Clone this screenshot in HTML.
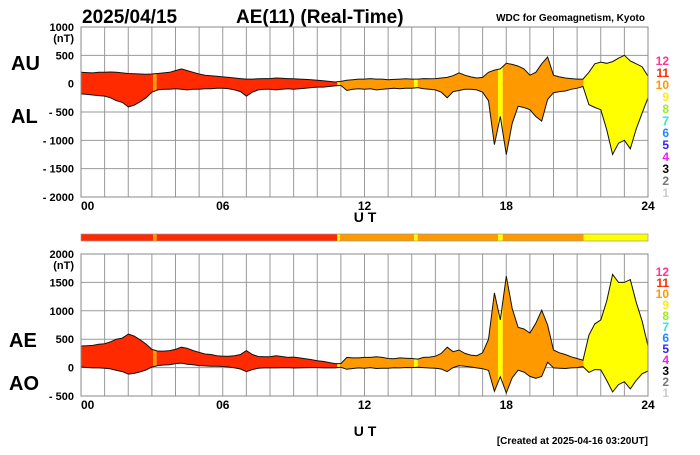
<!DOCTYPE html>
<html><head><meta charset="utf-8"><style>
body{margin:0;background:#fff;}
svg text{font-family:"Liberation Sans",sans-serif;font-weight:bold;}
</style></head><body>
<svg id="c" width="700" height="450" xmlns="http://www.w3.org/2000/svg">
<text x="82" y="23" font-size="19">2025/04/15</text>
<text x="236" y="23" font-size="19">AE(11) (Real-Time)</text>
<text x="645" y="21" font-size="10" text-anchor="end">WDC for Geomagnetism, Kyoto</text>
<text x="11" y="70" font-size="20">AU</text>
<text x="11" y="123" font-size="20">AL</text>
<text x="9" y="347" font-size="20">AE</text>
<text x="9" y="390" font-size="20">AO</text>
<text x="648" y="444" font-size="10" text-anchor="end">[Created at 2025-04-16 03:20UT]</text>
<g id="top"></g>
<g id="bar"></g>
<g id="bot"></g>
</svg>
<script>
const AU=[200,195,190,200,200,205,200,190,180,175,170,165,170,180,190,200,230,260,230,200,170,150,140,130,120,110,100,90,80,80,85,90,90,100,95,90,85,80,75,70,60,50,40,30,40,60,70,80,80,90,80,80,70,75,80,85,80,80,90,85,90,100,110,140,190,150,120,100,110,200,240,260,360,340,310,260,150,200,350,470,150,120,100,90,80,80,200,350,380,360,390,450,500,400,350,300,130];
const AL=[-180,-190,-200,-210,-220,-250,-300,-330,-410,-380,-320,-250,-150,-110,-100,-100,-90,-100,-110,-100,-100,-90,-90,-80,-80,-90,-110,-140,-220,-150,-110,-100,-100,-110,-100,-90,-100,-90,-80,-70,-60,-60,-50,-40,-30,-120,-100,-90,-100,-90,-110,-100,-90,-80,-90,-80,-80,-70,-90,-100,-110,-150,-250,-140,-120,-100,-100,-110,-150,-300,-1075,-580,-1250,-700,-400,-420,-460,-580,-660,-280,-160,-140,-130,-100,-80,-50,-370,-420,-460,-810,-1250,-1050,-1000,-1150,-800,-520,-250];
const segStart=[0,3.05,3.2,10.85,10.95,14.1,14.25,17.65,17.85,21.27];
const segEnd=[3.05,3.2,10.85,10.95,14.1,14.25,17.65,17.85,21.27,24];
const segCount=[11,10,11,9,10,9,10,9,10,9];
const legendNums=[12,11,10,9,8,7,6,5,4,3,2,1];
const legendCols=['#ff3399','#ff2a00','#ff9900','#ffee00','#99ee22','#22eecc','#2288ff','#3322ff','#ee22ee','#000000','#777777','#cccccc'];
const topTicks=['1000','500','0','- 500','- 1000','- 1500','- 2000'];
const topTickVals=[1000,500,0,-500,-1000,-1500,-2000];
const botTicks=['2000','1500','1000','500','0','- 500'];
const botTickVals=[2000,1500,1000,500,0,-500];
const xTicks=['00','06','12','18','24'];
const xTickVals=[0,6,12,18,24];
const countColor={11:'#ff2a00',10:'#ff9900',9:'#ffff00'};
const NS='http://www.w3.org/2000/svg';
const X0=81,X1=648;
const xs=h=>X0+(X1-X0)*h/24;
function mk(p,t,a){const e=document.createElementNS(NS,t);for(const k in a)e.setAttribute(k,a[k]);p.appendChild(e);return e;}
function panel(g,top,bot,vmax,vmin,hi,lo,ticks,tv,id,uty,legTop,legStep){
  const ys=v=>top+(bot-top)*(vmax-v)/(vmax-vmin);
  for(let h=0;h<=24;h++){const l=mk(g,'line',{x1:xs(h),x2:xs(h),y1:top,y2:bot,stroke:'#999','stroke-width':1});
    }
  tv.forEach((v,i)=>{const l=mk(g,'line',{x1:X0,x2:X1,y1:ys(v),y2:ys(v),stroke:'#999','stroke-width':1});
    
    const t=mk(g,'text',{x:74,y:ys(v)+4,'font-size':11,'text-anchor':'end'});t.textContent=ticks[i];
    });
  const u=mk(g,'text',{x:74,y:ys(tv[0])+15,'font-size':11,'text-anchor':'end'});u.textContent='(nT)';
  
  const n=hi.length;
  let up=hi.map((v,i)=>xs(i*24/(n-1)).toFixed(1)+','+ys(v).toFixed(1));
  let dn=lo.map((v,i)=>xs(i*24/(n-1)).toFixed(1)+','+ys(v).toFixed(1));
  const poly=up.concat(dn.slice().reverse()).join(' ');
  const defs=mk(g,'defs',{});
  segStart.forEach((s,i)=>{
    const cp=mk(defs,'clipPath',{id:id+'c'+i});mk(cp,'rect',{x:xs(s),y:0,width:xs(segEnd[i])-xs(s),height:450});
    const p=mk(g,'polygon',{points:poly,fill:countColor[segCount[i]],'clip-path':'url(#'+id+'c'+i+')'});
    });
  const l1=mk(g,'polyline',{points:up.join(' '),fill:'none',stroke:'#111','stroke-width':1});
  
  const l2=mk(g,'polyline',{points:dn.join(' '),fill:'none',stroke:'#111','stroke-width':1});
  
  const fr=mk(g,'rect',{x:X0,y:top,width:X1-X0,height:bot-top,fill:'none',stroke:'#888','stroke-width':1});
  
  xTickVals.forEach((h,i)=>{const t=mk(g,'text',{x:i==0?X0:xs(h),y:bot+13,'font-size':12,'text-anchor':i==0?'start':'middle'});t.textContent=xTicks[i];
    });
  const ut=mk(g,'text',{x:365,y:uty,'font-size':14,'text-anchor':'middle'});ut.textContent='U T';
  
  legendNums.forEach((nm,i)=>{const t=mk(g,'text',{x:669,y:legTop+i*legStep,'font-size':12,'text-anchor':'end',fill:legendCols[i]});t.textContent=nm;
    });
}
panel(document.getElementById('top'),27,197,1000,-2000,AU,AL,topTicks,topTickVals,'t',222,65,12);
const AE=AU.map((v,i)=>v-AL[i]);
const AO=AU.map((v,i)=>(v+AL[i])/2);
panel(document.getElementById('bot'),254,396,2000,-500,AE,AO,botTicks,botTickVals,'b',436,276,11);
const bar=document.getElementById('bar');
segStart.forEach((s,i)=>{const r=mk(bar,'rect',{x:xs(s),y:234,width:xs(segEnd[i])-xs(s),height:7,fill:countColor[segCount[i]]});
  });
const bf=mk(bar,'rect',{x:X0,y:234,width:X1-X0,height:7,fill:'none',stroke:'#999','stroke-width':0.7});

</script>
</body></html>
